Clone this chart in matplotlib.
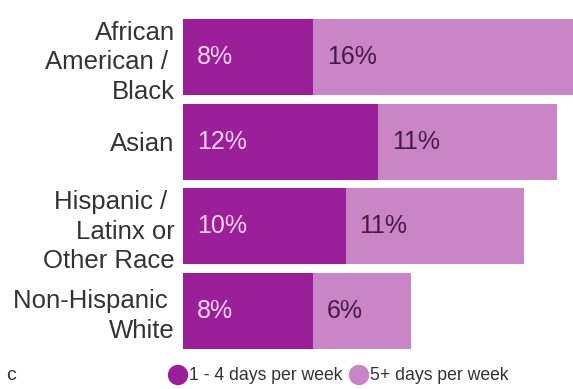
import matplotlib.pyplot as plt
from matplotlib.patches import Ellipse

categories = ["African\nAmerican / \nBlack", "Asian", "Hispanic / \nLatinx or\nOther Race", "Non-Hispanic \nWhite"]
days_1_4 = [8, 12, 10, 8]
days_5_plus = [16, 11, 11, 6]
series_names = ["1 - 4 days per week", "5+ days per week"]

dark = '#9b1f98'
light = '#c985c5'

plt.rcParams['font.family'] = ['Liberation Sans', 'DejaVu Sans']
fig = plt.figure(figsize=(5.73, 3.89), dpi=100)
ax = fig.add_axes([183 / 573, 40 / 389, 390 / 573, 330 / 389])

y = list(range(len(categories)))
ax.barh(y, days_1_4, height=0.9, color=dark)
ax.barh(y, days_5_plus, left=days_1_4, height=0.9, color=light)

for i in y:
    ax.text(0.85, i, f"{days_1_4[i]}%", va='center', ha='left', fontsize=18, color='#f6d3f3')
    ax.text(days_1_4[i] + 0.85, i, f"{days_5_plus[i]}%", va='center', ha='left', fontsize=18, color='#4a1848')

ax.set_xlim(0, 24)
ax.set_ylim(3.45, -0.45)
ax.set_yticks(y)
ax.set_yticklabels(categories, fontsize=18.5, color='#333333', linespacing=1.29)
ax.tick_params(axis='y', length=0, pad=6)
ax.set_xticks([])
for s in ax.spines.values():
    s.set_visible(False)

# legend along the bottom
ly = 1 - 375 / 389
fig.add_artist(Ellipse((178 / 573, ly), 19 / 573, 19 / 389, transform=fig.transFigure, color=dark))
fig.text(189 / 573, ly, series_names[0], va='center', ha='left', fontsize=12.7, color='#333333')
fig.add_artist(Ellipse((359 / 573, ly), 19 / 573, 19 / 389, transform=fig.transFigure, color=light))
fig.text(370 / 573, ly, series_names[1], va='center', ha='left', fontsize=12.7, color='#333333')
fig.text(6 / 573, ly, "c", va='center', ha='left', fontsize=14, color='#333333')

fig.savefig('out.png', dpi=100)
